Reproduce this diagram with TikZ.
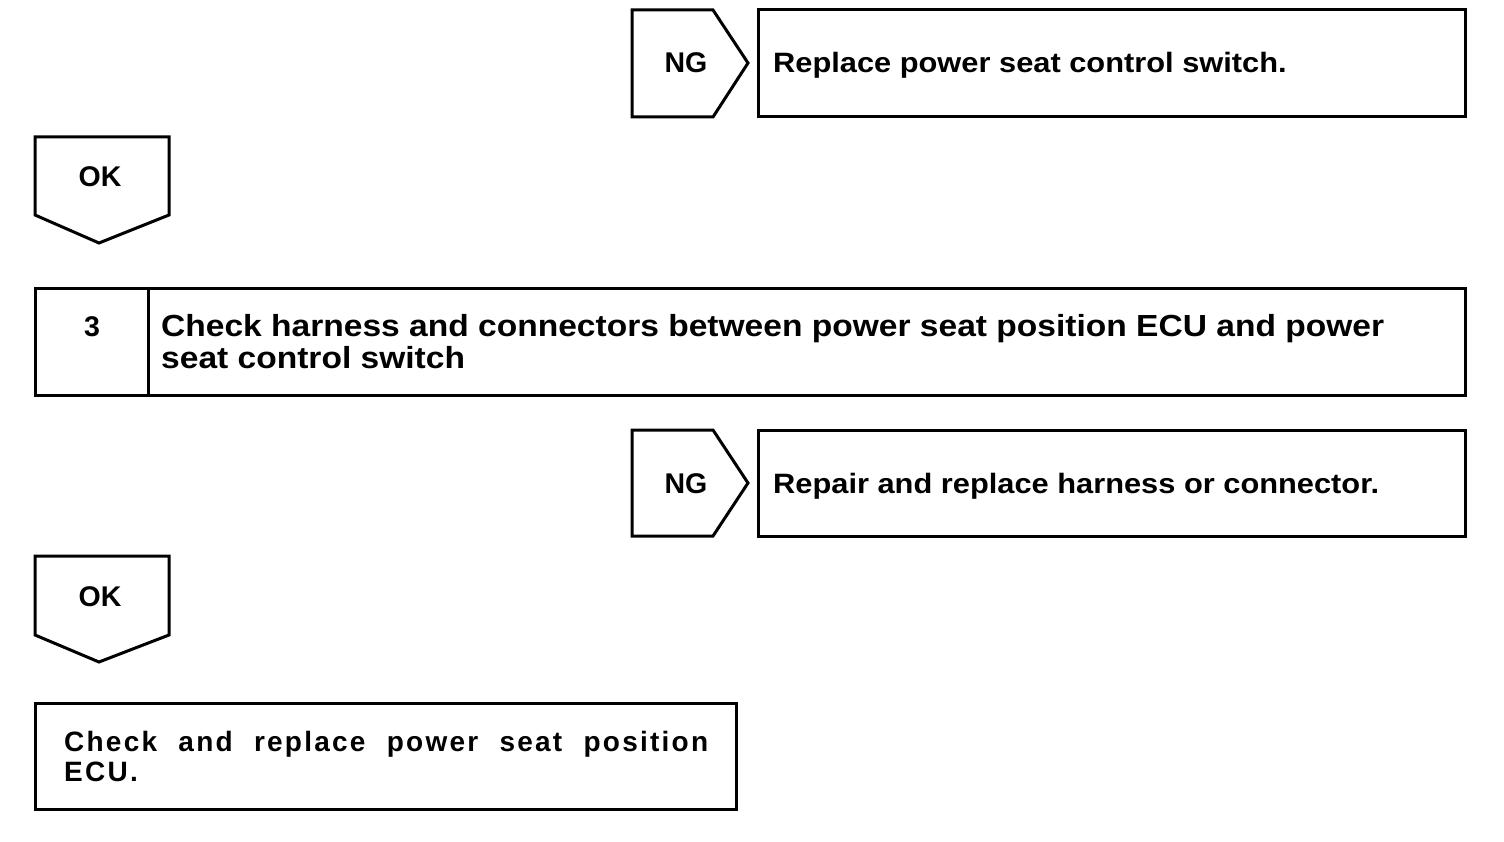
\documentclass[tikz,border=0pt]{standalone}
\usepackage{fontspec}
\setmainfont{Liberation Sans}[FakeStretch=1.1]
\newfontfamily\lblfont{Liberation Sans}
\newfontfamily\spacedfont{Liberation Sans}[LetterSpace=8]
\begin{document}
\begin{tikzpicture}[x=1pt,y=-1pt,
  ln/.style={line width=3pt,line join=miter},
  txt/.style={font=\fontsize{28}{32}\selectfont\bfseries,anchor=base west,inner sep=0pt},
  lbl/.style={font=\lblfont\fontsize{28.5}{32}\selectfont\bfseries,anchor=base,inner sep=0pt},
  big/.style={font=\fontsize{30.5}{32}\selectfont\bfseries,anchor=base west,inner sep=0pt,align=left}]
\useasboundingbox (0,0) rectangle (1504,842);
% NG 1
\draw[ln] (632,10) -- (713,10) -- (748,63) -- (713,117) -- (632,117) -- cycle;
\node[lbl] (ng1) at (686,73) {NG};
\draw[ln] (758,10) rectangle (1465,117);
\node[txt] (r1) at (773,73) {Replace power seat control switch.};
% OK 1
\draw[ln] (35,137) -- (169,137) -- (169,215) -- (99,243) -- (35,215) -- cycle;
\node[lbl] (ok1) at (100,187) {OK};
% Step 3
\draw[ln] (35,289) rectangle (1465,395);
\draw[ln] (148,289) -- (148,395);
\node[lbl] (n3) at (92,336) {3};
\node[big] (s3a) at (161,336) {Check harness and connectors between power seat position ECU and power};
\node[big] (s3b) at (161,368) {seat control switch};
% NG 2
\draw[ln] (632,430) -- (713,430) -- (748,483) -- (713,536) -- (632,536) -- cycle;
\node[lbl] (ng2) at (686,493) {NG};
\draw[ln] (758,430) rectangle (1465,536);
\node[txt] (r2) at (773,493) {Repair and replace harness or connector.};
% OK 2
\draw[ln] (35,556) -- (169,556) -- (169,635) -- (99,662) -- (35,635) -- cycle;
\node[lbl] (ok2) at (100,606) {OK};
% final
\draw[ln] (35,703) rectangle (736,809);
\node[font=\spacedfont\fontsize{28}{30}\selectfont\bfseries,anchor=north west,inner sep=0pt,text width=644pt,align=justify] (fin) at (64,731) {Check and replace power seat position\linebreak ECU.};
\end{tikzpicture}
\end{document}
